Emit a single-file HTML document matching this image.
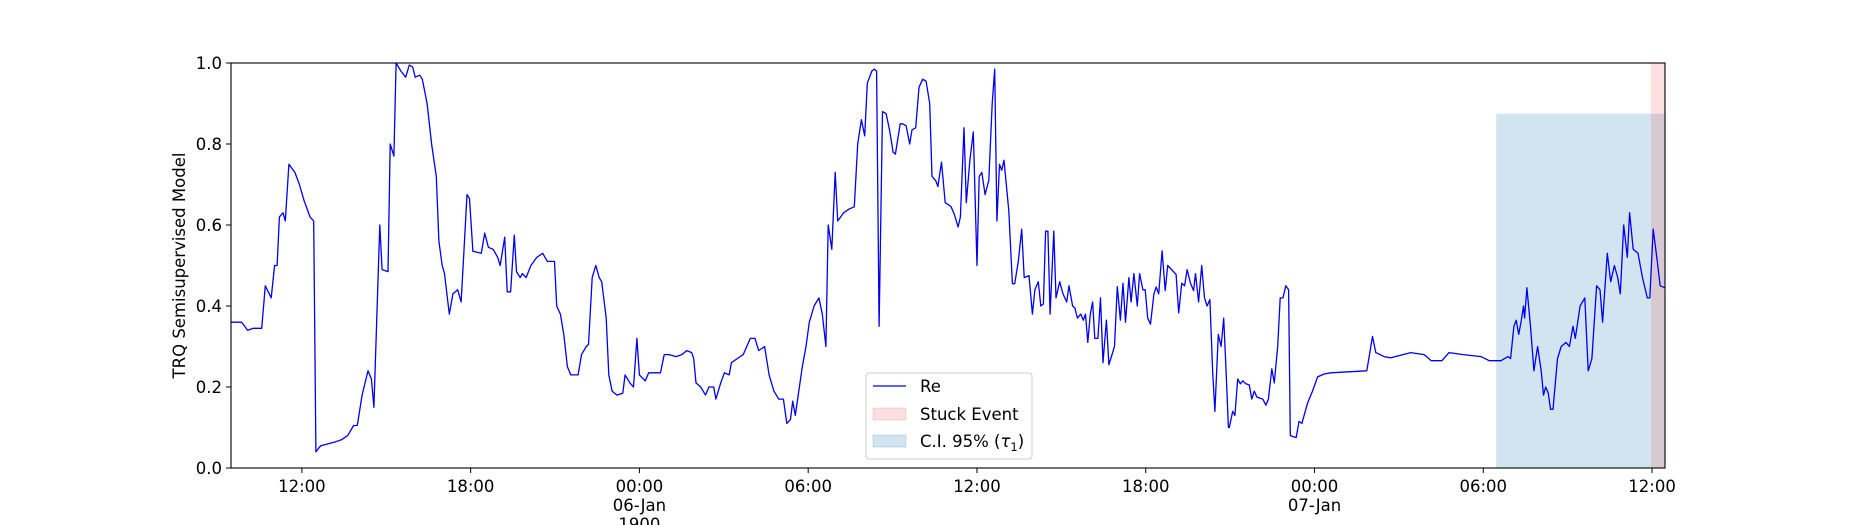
<!DOCTYPE html>
<html><head><meta charset="utf-8"><style>
html,body{margin:0;padding:0;background:#fff;}
svg{display:block;font-family:"DejaVu Sans","Liberation Sans",sans-serif;}
</style></head><body>
<svg id="chart" width="1850" height="525" viewBox="0 0 1850 525" xmlns="http://www.w3.org/2000/svg">
<g id="shades"></g>
<g id="series"></g>
<rect x="231" y="63" width="1434" height="405" fill="none" stroke="#000" stroke-width="1.1"/>
<g id="xaxis"></g>
<g id="yaxis"></g>
<text transform="translate(185,265.5) rotate(-90)" text-anchor="middle" font-size="16.5">TRQ Semisupervised Model</text>
<g>
<rect x="866" y="373" width="166" height="86" rx="3" fill="#fff" fill-opacity="0.8" stroke="#ccc"/>
<line x1="873" y1="386" x2="906" y2="386" stroke="#0000ee" stroke-width="1.3"/>
<text x="920" y="392" font-size="16.5">Re</text>
<rect x="873" y="408" width="33" height="12" fill="#d62728" fill-opacity="0.15" stroke="#d62728" stroke-opacity="0.15"/>
<text x="920" y="420" font-size="16.5">Stuck Event</text>
<rect x="873" y="435" width="33" height="12" fill="#1f77b4" fill-opacity="0.2" stroke="#1f77b4" stroke-opacity="0.2"/>
<text x="920" y="447" font-size="16.5">C.I. 95% (<tspan font-style="italic">τ</tspan><tspan font-size="11.5" dy="4">1</tspan><tspan dy="-4">)</tspan></text>
</g>
</svg>
<script>
const times = [9.48,9.86,10.07,10.28,10.57,10.70,10.91,11.03,11.12,11.20,11.33,11.41,11.54,11.75,11.91,12.08,12.29,12.42,12.50,12.67,13.21,13.42,13.63,13.84,13.97,14.14,14.35,14.47,14.56,14.77,14.85,15.06,15.14,15.27,15.35,15.52,15.69,15.82,15.94,16.03,16.19,16.28,16.45,16.61,16.78,16.87,16.99,17.07,17.24,17.37,17.54,17.66,17.75,17.87,17.96,18.08,18.38,18.50,18.63,18.80,18.96,19.05,19.21,19.30,19.42,19.55,19.63,19.76,19.84,19.97,20.14,20.35,20.56,20.73,20.98,21.06,21.19,21.31,21.44,21.56,21.82,21.94,22.11,22.19,22.32,22.45,22.57,22.66,22.82,22.91,23.03,23.20,23.41,23.49,23.66,23.79,23.91,24.00,24.21,24.33,24.75,24.88,25.05,25.30,25.51,25.68,25.86,25.93,26.01,26.18,26.35,26.47,26.64,26.72,26.89,27.02,27.19,27.27,27.48,27.69,27.94,28.11,28.24,28.45,28.61,28.78,28.95,29.12,29.24,29.37,29.45,29.54,29.79,29.92,30.04,30.21,30.38,30.50,30.63,30.71,30.84,30.96,31.05,31.26,31.47,31.64,31.76,31.89,32.01,32.10,32.26,32.35,32.43,32.52,32.64,32.77,32.89,33.02,33.10,33.27,33.36,33.48,33.61,33.69,33.82,33.94,34.07,34.19,34.32,34.40,34.53,34.61,34.74,34.87,34.99,35.08,35.20,35.33,35.41,35.54,35.62,35.75,35.87,36.00,36.08,36.17,36.29,36.42,36.54,36.63,36.71,36.80,36.88,36.96,37.13,37.26,37.34,37.47,37.59,37.68,37.85,37.97,38.06,38.18,38.27,38.36,38.44,38.52,38.60,38.73,38.81,38.94,39.06,39.19,39.27,39.40,39.48,39.57,39.69,39.78,39.86,39.94,40.03,40.11,40.19,
40.30,40.39,40.48,40.60,40.69,40.89,40.99,41.10,41.19,41.28,41.40,41.48,41.58,41.70,41.78,41.90,41.98,42.07,42.17,42.29,42.37,42.46,42.58,42.69,42.78,43.08,43.17,43.28,43.38,43.47,43.59,43.70,43.77,43.88,43.99,44.09,44.18,44.28,44.38,44.46,44.58,44.68,44.77,44.85,44.94,44.97,45.09,45.17,45.27,45.36,45.45,45.56,45.68,45.77,45.86,45.95,46.16,46.27,46.36,46.48,46.57,46.69,46.78,46.88,46.98,47.08,47.14,47.35,47.45,47.55,47.75,47.93,48.11,48.34,48.58,49.86,50.06,50.18,50.47,50.71,51.42,51.90,52.15,52.53,52.78,53.29,53.92,54.21,54.63,54.88,54.97,55.09,55.17,55.26,55.34,55.43,55.47,55.55,55.68,55.80,55.93,56.06,56.14,56.22,56.31,56.39,56.48,56.64,56.77,56.94,57.06,57.19,57.27,57.44,57.61,57.73,57.86,58.03,58.15,58.24,58.41,58.53,58.66,58.78,58.87,58.99,59.12,59.20,59.33,59.50,59.66,59.83,59.92,60.04,60.17,60.29,60.46];
const values = [0.36,0.36,0.34,0.345,0.345,0.45,0.42,0.50,0.50,0.62,0.63,0.61,0.75,0.73,0.70,0.66,0.62,0.61,0.04,0.055,0.065,0.07,0.08,0.105,0.105,0.18,0.24,0.22,0.15,0.60,0.49,0.485,0.80,0.77,1.0,0.98,0.965,0.995,0.99,0.965,0.97,0.96,0.90,0.80,0.72,0.56,0.50,0.48,0.38,0.43,0.44,0.41,0.52,0.675,0.665,0.535,0.53,0.58,0.545,0.54,0.52,0.50,0.57,0.435,0.435,0.575,0.485,0.47,0.48,0.47,0.50,0.52,0.53,0.51,0.51,0.40,0.38,0.33,0.25,0.23,0.23,0.28,0.30,0.305,0.47,0.50,0.47,0.46,0.37,0.23,0.19,0.18,0.185,0.23,0.21,0.20,0.32,0.23,0.215,0.235,0.235,0.28,0.28,0.275,0.28,0.29,0.285,0.27,0.21,0.20,0.18,0.20,0.20,0.17,0.21,0.235,0.23,0.26,0.27,0.28,0.32,0.32,0.29,0.30,0.23,0.19,0.17,0.17,0.11,0.12,0.165,0.13,0.25,0.30,0.36,0.40,0.42,0.38,0.30,0.60,0.54,0.73,0.61,0.63,0.64,0.645,0.80,0.86,0.82,0.95,0.98,0.985,0.98,0.35,0.88,0.875,0.835,0.78,0.775,0.85,0.85,0.845,0.80,0.835,0.84,0.94,0.96,0.955,0.90,0.72,0.71,0.695,0.755,0.655,0.65,0.645,0.625,0.595,0.62,0.84,0.655,0.76,0.83,0.50,0.72,0.73,0.675,0.71,0.90,0.985,0.61,0.75,0.735,0.76,0.635,0.455,0.455,0.51,0.59,0.47,0.475,0.38,0.44,0.46,0.40,0.405,0.585,0.585,0.38,0.585,0.42,0.46,0.43,0.41,0.45,0.40,0.395,0.37,0.38,0.365,0.38,0.31,0.38,0.41,0.32,
0.32,0.42,0.26,0.365,0.255,0.30,0.448,0.365,0.456,0.36,0.47,0.41,0.48,0.40,0.48,0.44,0.44,0.37,0.355,0.43,0.447,0.43,0.536,0.438,0.50,0.478,0.383,0.456,0.45,0.49,0.456,0.438,0.48,0.41,0.50,0.42,0.40,0.416,0.235,0.14,0.33,0.30,0.37,0.25,0.10,0.10,0.14,0.13,0.22,0.208,0.215,0.208,0.205,0.17,0.19,0.175,0.17,0.155,0.17,0.245,0.21,0.30,0.42,0.42,0.45,0.44,0.08,0.075,0.115,0.11,0.16,0.19,0.225,0.232,0.235,0.24,0.325,0.285,0.275,0.272,0.285,0.28,0.265,0.265,0.285,0.28,0.275,0.265,0.265,0.275,0.27,0.35,0.365,0.33,0.36,0.40,0.37,0.445,0.35,0.24,0.30,0.24,0.18,0.20,0.185,0.145,0.145,0.27,0.30,0.31,0.30,0.35,0.32,0.40,0.42,0.24,0.27,0.45,0.44,0.36,0.53,0.46,0.50,0.47,0.43,0.60,0.52,0.63,0.54,0.53,0.47,0.42,0.42,0.59,0.52,0.45,0.445];
const xTicks = [12,18,24,30,36,42,48,54,60];
const xTickLabels = [["12:00"],["18:00"],["00:00","06-Jan","1900"],["06:00"],["12:00"],["18:00"],["00:00","07-Jan"],["06:00"],["12:00"]];
const yTicks = [0,0.2,0.4,0.6,0.8,1.0];
const yTickLabels = ["0.0","0.2","0.4","0.6","0.8","1.0"];
const ciRange = [54.46, 60.46];
const ciUpper = [0.875];
const stuckRange = [59.96, 60.46];

const X0=231,X1=1665,Y0=468,Y1=63,D0=9.48,D1=60.46;
const xs = t => X0 + (t-D0)/(D1-D0)*(X1-X0);
const ys = v => Y0 - v*(Y0-Y1);
const NS="http://www.w3.org/2000/svg";
function mk(tag, attrs, parent){const e=document.createElementNS(NS,tag);for(const k in attrs)e.setAttribute(k,attrs[k]);parent.appendChild(e);return e;}

const sh=document.getElementById('shades');
const ci=mk('rect',{x:xs(ciRange[0]),y:ys(ciUpper[0]),width:xs(ciRange[1])-xs(ciRange[0]),height:Y0-ys(ciUpper[0]),fill:'#1f77b4','fill-opacity':0.2},sh);


const st=mk('rect',{x:xs(stuckRange[0]),y:Y1,width:xs(stuckRange[1])-xs(stuckRange[0]),height:Y0-Y1,fill:'#ff0000','fill-opacity':0.12},sh);



const pts=times.map((t,i)=>xs(t).toFixed(1)+','+ys(values[i]).toFixed(1)).join(' ');
const line=mk('polyline',{points:pts,fill:'none',stroke:'#0000ee','stroke-width':1.3,'stroke-linejoin':'round'},document.getElementById('series'));



const xa=document.getElementById('xaxis');
xTicks.forEach((t,i)=>{
  const tk=mk('line',{x1:xs(t),x2:xs(t),y1:Y0,y2:Y0+5,stroke:'#000','stroke-width':1},xa);
  
  
  xTickLabels[i].forEach((s,j)=>{
    const tx=mk('text',{x:xs(t),y:Y0+24+j*19,'text-anchor':'middle','font-size':16.5},xa);
    tx.textContent=s;
    
    
  });
});
const ya=document.getElementById('yaxis');
yTicks.forEach((v,i)=>{
  const tk=mk('line',{x1:X0-5,x2:X0,y1:ys(v),y2:ys(v),stroke:'#000','stroke-width':1},ya);
  
  
  const tx=mk('text',{x:X0-9,y:ys(v)+6,'text-anchor':'end','font-size':16.5},ya);
  tx.textContent=yTickLabels[i];
  
  
});
</script>
</body></html>
